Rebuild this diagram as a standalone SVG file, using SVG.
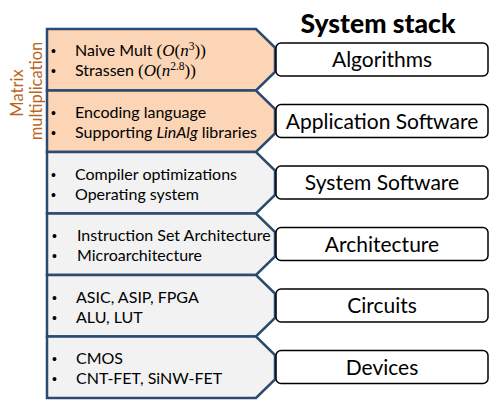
<svg xmlns="http://www.w3.org/2000/svg" width="492" height="401" viewBox="0 0 492 401">
<style>
.layer{stroke:#2B4A6F;stroke-width:2.5;stroke-linejoin:miter}
.orange{fill:#FBD5B5}
.gray{fill:#F2F2F2}
.box{fill:#FFFFFF;stroke:#000000;stroke-width:1.5}
.item{font-family:Lato,"Liberation Sans",sans-serif;font-size:16px;fill:#000000}
.bul{font-family:"Liberation Sans",sans-serif;font-size:14px;fill:#000000}
.lbl{font-family:Lato,"Liberation Sans",sans-serif;font-size:21px;fill:#000000;text-anchor:middle}
.math{font-family:"Liberation Serif",serif;font-style:italic;font-size:17px}
.mathp{font-family:"Liberation Serif",serif;font-size:17px}
.sup{font-family:"Liberation Serif",serif;font-size:11.5px}
.side{font-family:Lato,"Liberation Sans",sans-serif;font-size:16.5px;fill:#B9661C;text-anchor:middle}
</style>
<rect width="492" height="401" fill="#FFFFFF"/>
<text x="378" y="33" font-family="Lato,'Liberation Sans',sans-serif" font-size="26.5" font-weight="900" text-anchor="middle">System stack</text>
<g id="matrix-label">
<text class="side" transform="translate(23,93) rotate(-90)">Matrix</text>
<text class="side" transform="translate(42,91) rotate(-90)">multiplication</text>
</g>
<g id="layer-algorithms">
<path class="layer orange" d="M47,29 H256 L275,47.5 V72 L256,90.5 H47 Z"/>
<text class="bul" x="51" y="56">•</text><text class="bul" x="51" y="76">•</text>
<text class="item" x="75" y="56">Naive Mult <tspan class="mathp">(</tspan><tspan class="math">O</tspan><tspan class="mathp">(</tspan><tspan class="math">n</tspan><tspan class="sup" dy="-6">3</tspan><tspan class="mathp" dy="6">))</tspan></text>
<text class="item" x="75" y="76">Strassen <tspan class="mathp">(</tspan><tspan class="math">O</tspan><tspan class="mathp">(</tspan><tspan class="math">n</tspan><tspan class="sup" dy="-6">2.8</tspan><tspan class="mathp" dy="6">))</tspan></text>
<rect class="box" x="276" y="43" width="212" height="33" rx="5"/>
<text class="lbl" x="382" y="66.5">Algorithms</text>
</g>
<g id="layer-application">
<path class="layer orange" d="M47,90.5 H256 L275,109 V133.5 L256,152 H47 Z"/>
<text class="bul" x="51" y="118">•</text><text class="bul" x="51" y="138">•</text>
<text class="item" x="75" y="118">Encoding language</text>
<text class="item" x="75" y="138">Supporting <tspan font-style="italic">LinAlg</tspan> libraries</text>
<rect class="box" x="276" y="104.5" width="212" height="33" rx="5"/>
<text class="lbl" x="382" y="128.5">Application Software</text>
</g>
<g id="layer-system">
<path class="layer gray" d="M47,152 H256 L275,170.5 V195 L256,213.5 H47 Z"/>
<text class="bul" x="51" y="179.5">•</text><text class="bul" x="51" y="199.5">•</text>
<text class="item" x="75" y="179.5">Compiler optimizations</text>
<text class="item" x="75" y="199.5">Operating system</text>
<rect class="box" x="276" y="166" width="212" height="33" rx="5"/>
<text class="lbl" x="382" y="190">System Software</text>
</g>
<g id="layer-architecture">
<path class="layer gray" d="M47,213.5 H256 L275,232 V256.5 L256,275 H47 Z"/>
<text class="bul" x="52" y="241">•</text><text class="bul" x="52" y="261">•</text>
<text class="item" x="77" y="241">Instruction Set Architecture</text>
<text class="item" x="77" y="261">Microarchitecture</text>
<rect class="box" x="276" y="227.5" width="212" height="33" rx="5"/>
<text class="lbl" x="382" y="251.5">Architecture</text>
</g>
<g id="layer-circuits">
<path class="layer gray" d="M47,275 H256 L275,293.5 V318 L256,336.5 H47 Z"/>
<text class="bul" x="52" y="302.5">•</text><text class="bul" x="52" y="322.5">•</text>
<text class="item" x="76" y="302.5">ASIC, ASIP, FPGA</text>
<text class="item" x="76" y="322.5">ALU, LUT</text>
<rect class="box" x="276" y="289" width="212" height="33" rx="5"/>
<text class="lbl" x="382" y="313">Circuits</text>
</g>
<g id="layer-devices">
<path class="layer gray" d="M47,336.5 H256 L275,355 V379.5 L256,398 H47 Z"/>
<text class="bul" x="52" y="364">•</text><text class="bul" x="52" y="384">•</text>
<text class="item" x="76" y="364">CMOS</text>
<text class="item" x="76" y="384">CNT-FET, SiNW-FET</text>
<rect class="box" x="276" y="350.5" width="212" height="33" rx="5"/>
<text class="lbl" x="382" y="374.5">Devices</text>
</g>
</svg>
